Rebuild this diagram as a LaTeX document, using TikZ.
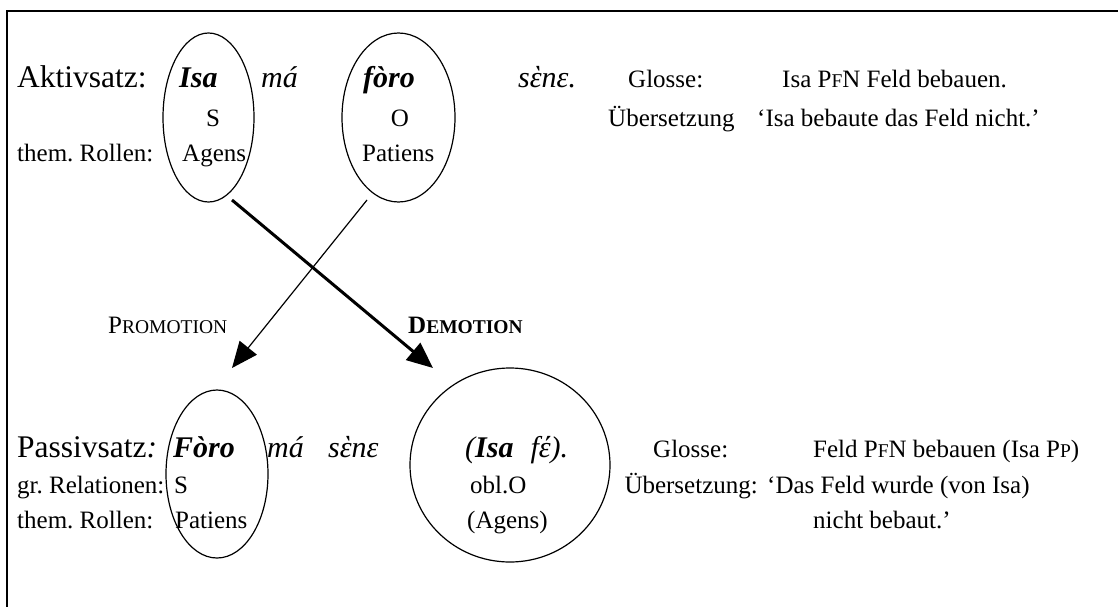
\documentclass[tikz,border=0pt]{standalone}
\usepackage{fontspec}
\setmainfont{Liberation Serif}
\usetikzlibrary{shapes.geometric,arrows.meta}
\newcommand\smc[1]{{\fontsize{19.5}{20}\selectfont #1}}
\frenchspacing
\begin{document}
\begin{tikzpicture}[x=1pt,y=-1pt,
  txt/.style={anchor=base west, inner sep=0pt, font=\fontsize{25}{30}\selectfont},
  big/.style={anchor=base west, inner sep=0pt, font=\fontsize{31.5}{36}\selectfont},
  ex/.style={anchor=base west, inner sep=0pt, font=\fontsize{30}{36}\selectfont\itshape},
  exb/.style={ex, font=\fontsize{30}{36}\selectfont\bfseries\itshape},
  oval/.style={draw, ellipse, line width=1.2pt, inner sep=0pt},
  framel/.style={line width=2pt},
  tipa/.style={-{Triangle[length=26pt,width=22pt]}}
]
\useasboundingbox (0,0) rectangle (1118,607);
% frame (clipped at right and bottom)
\coordinate (fb) at (7,607);
\coordinate (fc) at (7,11);
\coordinate (fr) at (1118,11);
\draw[framel] (fb) -- (fc) -- (fr);

% ellipses
\node[oval, minimum width=91pt, minimum height=169pt] (e1) at (208.5,117.5) {};
\node[oval, minimum width=113pt, minimum height=169pt] (e2) at (398.5,117.5) {};
\node[oval, minimum width=102pt, minimum height=168pt] (e3) at (217,474) {};
\node[oval, minimum width=200pt, minimum height=194pt] (e4) at (510,465) {};

% active sentence
\node[big] (akt) at (17,88) {Aktivsatz:};
\node[exb] (w1) at (179,88) {Isa};
\node[ex] (w2) at (261,88) {má};
\node[exb] (w3) at (363,88) {fòro};
\node[ex] (w4) at (518,88) {sὲnε.};
\node[txt] (gl1) at (628,88) {Glosse:};
\node[txt] (gl1t) at (782,88) {Isa P\smc{F}N Feld bebauen.};
\node[txt, anchor=base] (s1) at (213,126) {S};
\node[txt, anchor=base] (o1) at (400,126) {O};
\node[txt] (ue1) at (608,126) {Übersetzung};
\node[txt] (ue1t) at (757,126) {‘Isa bebaute das Feld nicht.’};
\node[txt] (th1) at (17,161) {them. Rollen:};
\node[txt] (ag1) at (182,161) {Agens};
\node[txt] (pa1) at (362,161) {Patiens};

% arrows
\coordinate (d0) at (232,200);
\coordinate (d1) at (433,368);
\coordinate (p0) at (367,200);
\coordinate (p1) at (232,368);
\draw[tipa, line width=1.2pt] (p0) -- (p1);
\draw[tipa, line width=3pt] (d0) -- (d1);
\node[txt] (prom) at (108,333) {P\smc{ROMOTION}};
\node[txt, font=\fontsize{25}{30}\selectfont\bfseries] (dem) at (408,333) {D\smc{EMOTION}};

% passive sentence
\node[big] (pas) at (17,457) {Passivsatz\textit{:}};
\node[exb] (v1) at (173,457) {Fòro};
\node[ex] (v2) at (267,457) {má};
\node[ex] (v3) at (328,457) {sὲnε};
\node[ex] (v4) at (465,457) {(\textbf{Isa}\hspace{17pt}fέ).};
\node[txt] (gl2) at (653,457) {Glosse:};
\node[txt] (gl2t) at (813,457) {Feld P\smc{F}N bebauen (Isa P\smc{P})};
\node[txt] (gr2) at (17,493) {gr. Relationen:};
\node[txt] (s2) at (174,493) {S};
\node[txt] (ob2) at (470,493) {obl.O};
\node[txt, anchor=base east] (ue2) at (758,493) {Übersetzung:};
\node[txt] (ue2t) at (767,493) {‘Das Feld wurde (von Isa)};
\node[txt] (th2) at (17,528) {them. Rollen:};
\node[txt] (pa2) at (175,528) {Patiens};
\node[txt] (ag2) at (467,528) {(Agens)};
\node[txt] (ue2u) at (813,528) {nicht bebaut.’};
\end{tikzpicture}
\end{document}
